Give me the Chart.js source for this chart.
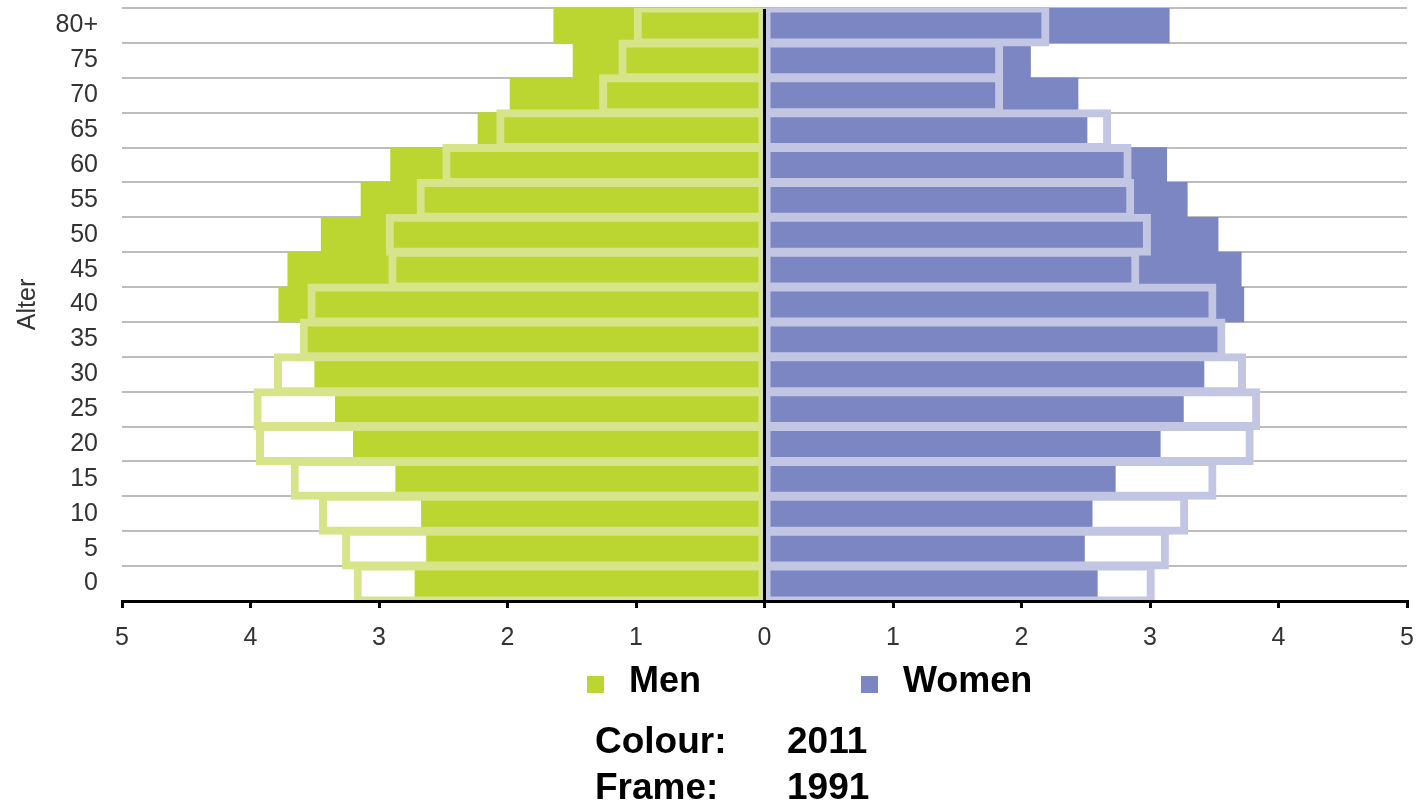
<!DOCTYPE html>
<html lang="en">
<head>
<meta charset="utf-8">
<title>Population pyramid - 2011 (colour) / 1991 (frame)</title>
<script src="https://cdn.jsdelivr.net/npm/chart.js@4.4.1/dist/chart.umd.min.js"></script>
<style>
	html, body { margin: 0; padding: 0; background: #fff; }
	.wrap { position: relative; width: 1417px; height: 801px; overflow: hidden; }
	canvas { display: block; }
	.txt { position: absolute; font-family: "Liberation Sans", Arial, sans-serif; font-weight: bold; color: #000; white-space: nowrap; }
	.legend { font-size: 36px; line-height: 36px; top: 662px; height: 36px; }
	.legend .box { position: absolute; left: 0; top: 14px; width: 17px; height: 17px; }
	.legend .lbl { position: absolute; left: 42px; top: 0; }
	.caption { font-size: 37px; line-height: 37px; }
</style>
</head>
<body>
<div class="wrap">
	<canvas id="pyramid" width="1417" height="801"></canvas>
	<div class="txt legend" id="legend-men" style="left: 587px"><span class="box"></span><span class="lbl"></span></div>
	<div class="txt legend" id="legend-women" style="left: 861px"><span class="box"></span><span class="lbl"></span></div>
	<div class="txt caption" style="left: 595px; top: 722px">Colour:</div>
	<div class="txt caption" style="left: 787px; top: 722px">2011</div>
	<div class="txt caption" style="left: 595px; top: 768px">Frame:</div>
	<div class="txt caption" style="left: 787px; top: 768px">1991</div>
</div>

<script>
	// age groups, bottom to top
	var ageGroups = ['0', '5', '10', '15', '20', '25', '30', '35', '40', '45', '50', '55', '60', '65', '70', '75', '80+'];

	// share of population in %, 2011 (filled bars)
	var men2011   = [2.72, 2.63, 2.67, 2.87, 3.20, 3.34, 3.50, 3.58, 3.78, 3.71, 3.45, 3.14, 2.91, 2.23, 1.98, 1.49, 1.64];
	var women2011 = [2.59, 2.49, 2.55, 2.73, 3.08, 3.26, 3.42, 3.54, 3.73, 3.71, 3.53, 3.29, 3.13, 2.51, 2.44, 2.07, 3.15];

	// 1991 (frames)
	var men1991   = [3.17, 3.26, 3.44, 3.66, 3.93, 3.95, 3.79, 3.59, 3.53, 2.90, 2.92, 2.68, 2.48, 2.06, 1.26, 1.11, 0.99];
	var women1991 = [3.01, 3.12, 3.27, 3.49, 3.78, 3.83, 3.72, 3.56, 3.49, 2.89, 2.98, 2.85, 2.83, 2.67, 1.83, 1.83, 2.19];

	var xTicks = { min: -5, max: 5, step: 1 };

	var colors = {
		men: '#bcd631',
		menFrame: '#d8e48a',
		women: '#7b86c2',
		womenFrame: '#c2c6e3',
		grid: '#bdbdbd'
	};

	function neg(arr) {
		return arr.map(function (v) { return -v; });
	}

	var labelFont = { family: '"Liberation Sans", Arial, sans-serif', size: 25 };

	// black line at 0, on top of the bars
	var zeroLine = {
		id: 'zeroLine',
		afterDatasetsDraw: function (chart) {
			var ctx = chart.ctx;
			var area = chart.chartArea;
			var x = chart.scales.x.getPixelForValue(0);
			ctx.save();
			ctx.strokeStyle = '#000';
			ctx.lineWidth = 3;
			ctx.beginPath();
			ctx.moveTo(x, area.top + 1);
			ctx.lineTo(x, area.bottom);
			ctx.stroke();
			ctx.restore();
		}
	};

	var frame = {
		backgroundColor: 'rgba(0,0,0,0)',
		borderWidth: 1,
		inflateAmount: 3.5,
		borderSkipped: false
	};

	var data = {
		labels: ageGroups,
		datasets: [
			{ label: 'Men', data: neg(men2011), backgroundColor: colors.men, order: 4 },
			{ label: 'Women', data: women2011, backgroundColor: colors.women, order: 3 },
			Object.assign({ label: 'Men 1991', data: neg(men1991), borderColor: colors.menFrame, order: 2 }, frame),
			Object.assign({ label: 'Women 1991', data: women1991, borderColor: colors.womenFrame, order: 1 }, frame)
		]
	};

	var chart = new Chart('pyramid', {
		type: 'bar',
		data: data,
		plugins: [zeroLine],
		options: {
			indexAxis: 'y',
			responsive: false,
			animation: false,
			layout: { padding: { top: 8, right: 10, bottom: 0, left: 0 } },
			datasets: {
				bar: { grouped: false, barPercentage: 1, categoryPercentage: 1 }
			},
			plugins: {
				legend: { display: false },
				tooltip: { enabled: false }
			},
			scales: {
				x: {
					min: xTicks.min,
					max: xTicks.max,
					afterFit: function (s) {
						s.height = 200;
						s.paddingLeft = 0;
						s.paddingRight = 0;
					},
					grid: { drawOnChartArea: false, color: '#000', lineWidth: 3, tickLength: 7 },
					border: { display: true, color: '#000', width: 3, z: 1 },
					ticks: {
						stepSize: xTicks.step,
						padding: 15,
						color: '#333',
						font: labelFont,
						callback: function (v) { return Math.abs(v); }
					}
				},
				y: {
					reverse: true,
					afterFit: function (s) {
						s.width = 122;
						s.paddingTop = 0;
						s.paddingBottom = 0;
					},
					grid: { color: colors.grid, lineWidth: 2, drawTicks: false, offset: true },
					border: { display: false },
					ticks: { padding: 24, color: '#333', font: labelFont, autoSkip: false },
					title: {
						display: true,
						text: 'Alter',
						color: '#333',
						font: labelFont,
						padding: { top: 13, bottom: 0 }
					}
				}
			}
		}
	});

	// legend boxes from the 2011 datasets
	[['legend-men', 0], ['legend-women', 1]].forEach(function (item) {
		var el = document.getElementById(item[0]);
		var ds = chart.data.datasets[item[1]];
		el.querySelector('.box').style.background = ds.backgroundColor;
		el.querySelector('.lbl').textContent = ds.label;
	});
</script>
</body>
</html>
